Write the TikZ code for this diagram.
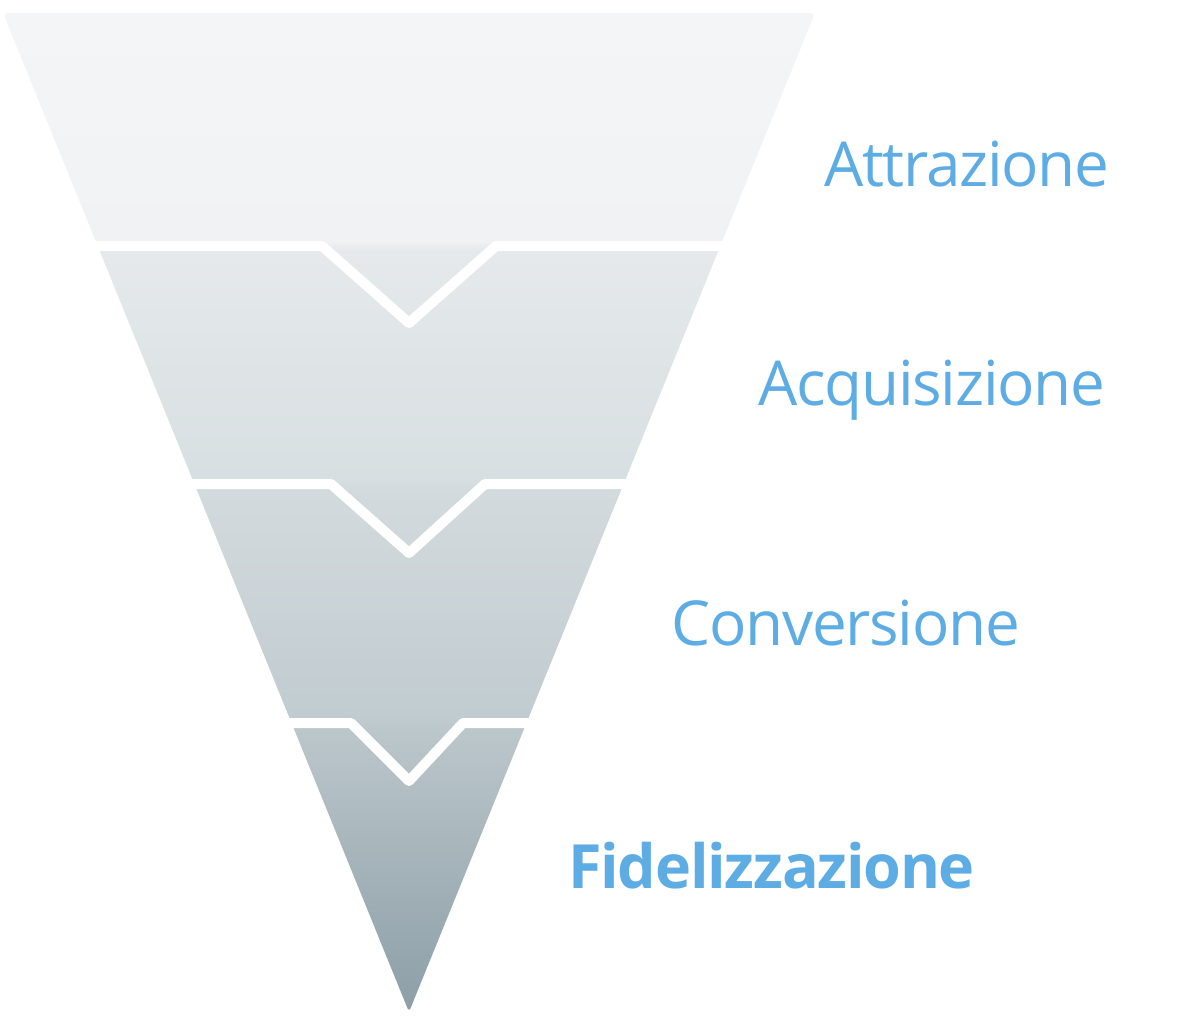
\documentclass[tikz,border=0pt]{standalone}
\usepackage{fontspec}
\setmainfont[LetterSpace=-2]{Open Sans}
\usepackage{tikz}

\definecolor{stageblue}{RGB}{93,173,228}

\pgfdeclareverticalshading{funnelshade}{100bp}{
  rgb(0bp)=(0.549,0.620,0.655);
  rgb(25bp)=(0.549,0.620,0.655);
  rgb(39.2bp)=(0.737,0.780,0.796);
  rgb(39.8bp)=(0.757,0.800,0.816);
  rgb(51.1bp)=(0.827,0.855,0.867);
  rgb(51.7bp)=(0.847,0.875,0.886);
  rgb(63.1bp)=(0.898,0.914,0.922);
  rgb(63.6bp)=(0.941,0.949,0.953);
  rgb(75bp)=(0.957,0.961,0.965);
  rgb(100bp)=(0.957,0.961,0.965)}

\tikzset{
  stage/.style={text=stageblue, inner sep=0pt, anchor=base west,
    font=\fontsize{62}{62}\selectfont},
  gap/.style={draw=white, line width=10pt, line join=round}
}

\begin{document}
\begin{tikzpicture}[x=1pt,y=-1pt]

\useasboundingbox (0,0) rectangle (1200,1028);

% funnel
\shade[shading=funnelshade, rounded corners=4pt] (3,13) -- (815,13) -- (409,1012) -- cycle;

% white gaps between the stages
\draw[gap] (40,246) -- (322,246) -- (409,323) -- (496,246) -- (780,246);
\draw[gap] (140,484) -- (331,484) -- (409,553) -- (485,484) -- (680,484);
\draw[gap] (240,723) -- (351,723) -- (409,781) -- (463,723) -- (580,723);

\node[stage] (attr) at (824,186) {Attrazione};
\node[stage] (acq) at (758,405) {Acquisizione};
\node[stage] (conv) at (671,645) {Conversione};
\node[stage, font=\fontsize{61}{61}\selectfont\bfseries] (fid) at (568,888) {Fidelizzazione};

\end{tikzpicture}
\end{document}
